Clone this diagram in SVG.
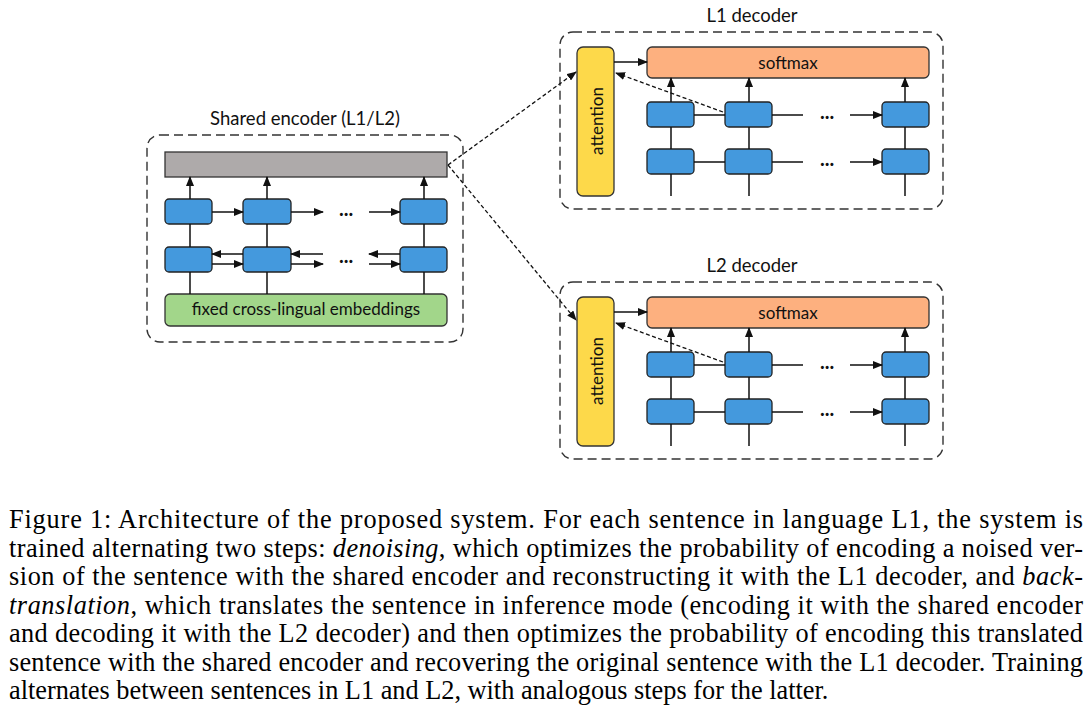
<svg xmlns="http://www.w3.org/2000/svg" width="1090" height="720" viewBox="0 0 1090 720">
<defs>
<marker id="ah" markerUnits="userSpaceOnUse" markerWidth="10" markerHeight="8" refX="9" refY="4" orient="auto"><path d="M0,0 L10,4 L0,8 z" fill="#111"/></marker>
<marker id="ahd" markerUnits="userSpaceOnUse" markerWidth="10" markerHeight="8" refX="9" refY="4" orient="auto"><path d="M0,0 L10,4 L0,8 z" fill="#111"/></marker>
<style>
.cont{fill:none;stroke:#333;stroke-width:1.4;stroke-dasharray:9,5}
.rnn{fill:#4499dd;stroke:#222;stroke-width:1.3}
.gray{fill:#aeaaaa;stroke:#333;stroke-width:1.3}
.green{fill:#a2d68a;stroke:#333;stroke-width:1.3}
.soft{fill:#fdb07f;stroke:#333;stroke-width:1.3}
.att{fill:#fdd94a;stroke:#333;stroke-width:1.3}
.lbl{font-family:Lato,"Open Sans",sans-serif;font-size:17px;fill:#111}
.ttl{font-family:Lato,"Open Sans",sans-serif;font-size:18.5px;fill:#111}
.dots{font-family:Lato,sans-serif;font-size:20px;font-weight:bold;fill:#111}
.a{stroke:#111;stroke-width:1.5;fill:none;marker-end:url(#ah)}
.d{stroke:#111;stroke-width:1.3;fill:none;stroke-dasharray:4,2.5;marker-end:url(#ahd)}
.cap{font-family:"Liberation Serif","Times New Roman",serif;font-size:26.3px;fill:#000}
</style>
</defs>

<g id="encoder">
<text class="ttl" x="305" y="125" text-anchor="middle">Shared encoder (L1/L2)</text>
<rect class="cont" x="147" y="135" width="316" height="207" rx="13"/>
<rect id="enc-out" class="gray" x="165" y="152" width="282" height="25"/>
<rect class="rnn" x="165" y="199" width="47" height="25" rx="4"/>
<rect class="rnn" x="243" y="199" width="48" height="25" rx="4"/>
<rect class="rnn" x="400" y="199" width="47" height="25" rx="4"/>
<rect class="rnn" x="165" y="247" width="47" height="25" rx="4"/>
<rect class="rnn" x="243" y="247" width="48" height="25" rx="4"/>
<rect class="rnn" x="400" y="247" width="47" height="25" rx="4"/>
<rect class="green" x="165" y="294" width="282" height="32" rx="5"/>
<text class="lbl" x="306" y="315" text-anchor="middle">fixed cross-lingual embeddings</text>
<text class="dots" x="346" y="216" text-anchor="middle">...</text>
<text class="dots" x="346" y="263" text-anchor="middle">...</text>
</g>

<g id="l1-decoder">
<text class="ttl" x="752" y="22" text-anchor="middle">L1 decoder</text>
<rect class="cont" x="560" y="32" width="383" height="177" rx="13"/>
<rect class="att" x="577" y="47" width="37" height="149" rx="6"/>
<text class="lbl" transform="translate(603,121) rotate(-90)" text-anchor="middle">attention</text>
<rect class="soft" x="647" y="47" width="282" height="31" rx="5"/>
<text class="lbl" x="788" y="69" text-anchor="middle">softmax</text>
<rect class="rnn" x="647" y="102" width="47" height="25" rx="4"/>
<rect class="rnn" x="725" y="102" width="47" height="25" rx="4"/>
<rect class="rnn" x="882" y="102" width="47" height="25" rx="4"/>
<rect class="rnn" x="647" y="149" width="47" height="25" rx="4"/>
<rect class="rnn" x="725" y="149" width="47" height="25" rx="4"/>
<rect class="rnn" x="882" y="149" width="47" height="25" rx="4"/>
<text class="dots" x="827" y="119" text-anchor="middle">...</text>
<text class="dots" x="827" y="166" text-anchor="middle">...</text>
</g>

<g id="l2-decoder">
<text class="ttl" x="752" y="272" text-anchor="middle">L2 decoder</text>
<rect class="cont" x="560" y="282" width="383" height="177" rx="13"/>
<rect class="att" x="577" y="297" width="37" height="149" rx="6"/>
<text class="lbl" transform="translate(603,371) rotate(-90)" text-anchor="middle">attention</text>
<rect class="soft" x="647" y="297" width="282" height="31" rx="5"/>
<text class="lbl" x="788" y="319" text-anchor="middle">softmax</text>
<rect class="rnn" x="647" y="352" width="47" height="25" rx="4"/>
<rect class="rnn" x="725" y="352" width="47" height="25" rx="4"/>
<rect class="rnn" x="882" y="352" width="47" height="25" rx="4"/>
<rect class="rnn" x="647" y="399" width="47" height="25" rx="4"/>
<rect class="rnn" x="725" y="399" width="47" height="25" rx="4"/>
<rect class="rnn" x="882" y="399" width="47" height="25" rx="4"/>
<text class="dots" x="827" y="369" text-anchor="middle">...</text>
<text class="dots" x="827" y="416" text-anchor="middle">...</text>
</g>

<g id="connectors">
<path class="a" d="M190,294 V272 M190,247 V224 M190,199 V177"/>
<path class="a" d="M267,294 V272 M267,247 V224 M267,199 V177"/>
<path class="a" d="M424,294 V272 M424,247 V224 M424,199 V177"/>
<path class="a" d="M212,212 H243"/>
<path class="a" d="M291,212 H323"/>
<path class="a" d="M369,212 H400"/>
<path class="a" d="M243,254 H212"/>
<path class="a" d="M212,264 H243"/>
<path class="a" d="M323,254 H291"/>
<path class="a" d="M291,264 H323"/>
<path class="a" d="M400,254 H369"/>
<path class="a" d="M369,264 H400"/>

<path class="a" d="M671,196 V174 M671,149 V127 M671,102 V78"/>
<path class="a" d="M749,196 V174 M749,149 V127 M749,102 V78"/>
<path class="a" d="M905,196 V174 M905,149 V127 M905,102 V78"/>
<path class="a" d="M694,115 H725 M772,115 H803 M850,115 H882"/>
<path class="a" d="M694,162 H725 M772,162 H803 M850,162 H882"/>
<path class="a" d="M614,62 H647"/>
<path class="d" d="M723,112 L616,73"/>

<path class="a" d="M671,446 V424 M671,399 V377 M671,352 V328"/>
<path class="a" d="M749,446 V424 M749,399 V377 M749,352 V328"/>
<path class="a" d="M905,446 V424 M905,399 V377 M905,352 V328"/>
<path class="a" d="M694,365 H725 M772,365 H803 M850,365 H882"/>
<path class="a" d="M694,412 H725 M772,412 H803 M850,412 H882"/>
<path class="a" d="M614,312 H647"/>
<path class="d" d="M723,362 L616,323"/>

<path class="d" d="M448,165 L576,72"/>
<path class="d" d="M448,165 L576,320"/>
</g>

<g id="caption">
<text class="cap" x="9" y="528" textLength="1074" lengthAdjust="spacing">Figure 1:  Architecture of the proposed system.  For each sentence in language L1, the system is</text>
<text class="cap" x="9" y="556.5" textLength="1074" lengthAdjust="spacing">trained alternating two steps: <tspan font-style="italic">denoising</tspan>, which optimizes the probability of encoding a noised ver-</text>
<text class="cap" x="9" y="585" textLength="1074" lengthAdjust="spacing">sion of the sentence with the shared encoder and reconstructing it with the L1 decoder, and <tspan font-style="italic">back-</tspan></text>
<text class="cap" x="9" y="613.5" textLength="1074" lengthAdjust="spacing"><tspan font-style="italic">translation</tspan>, which translates the sentence in inference mode (encoding it with the shared encoder</text>
<text class="cap" x="9" y="642" textLength="1074" lengthAdjust="spacing">and decoding it with the L2 decoder) and then optimizes the probability of encoding this translated</text>
<text class="cap" x="9" y="670.5" textLength="1074" lengthAdjust="spacing">sentence with the shared encoder and recovering the original sentence with the L1 decoder. Training</text>
<text class="cap" x="9" y="699">alternates between sentences in L1 and L2, with analogous steps for the latter.</text>
</g>
</svg>
